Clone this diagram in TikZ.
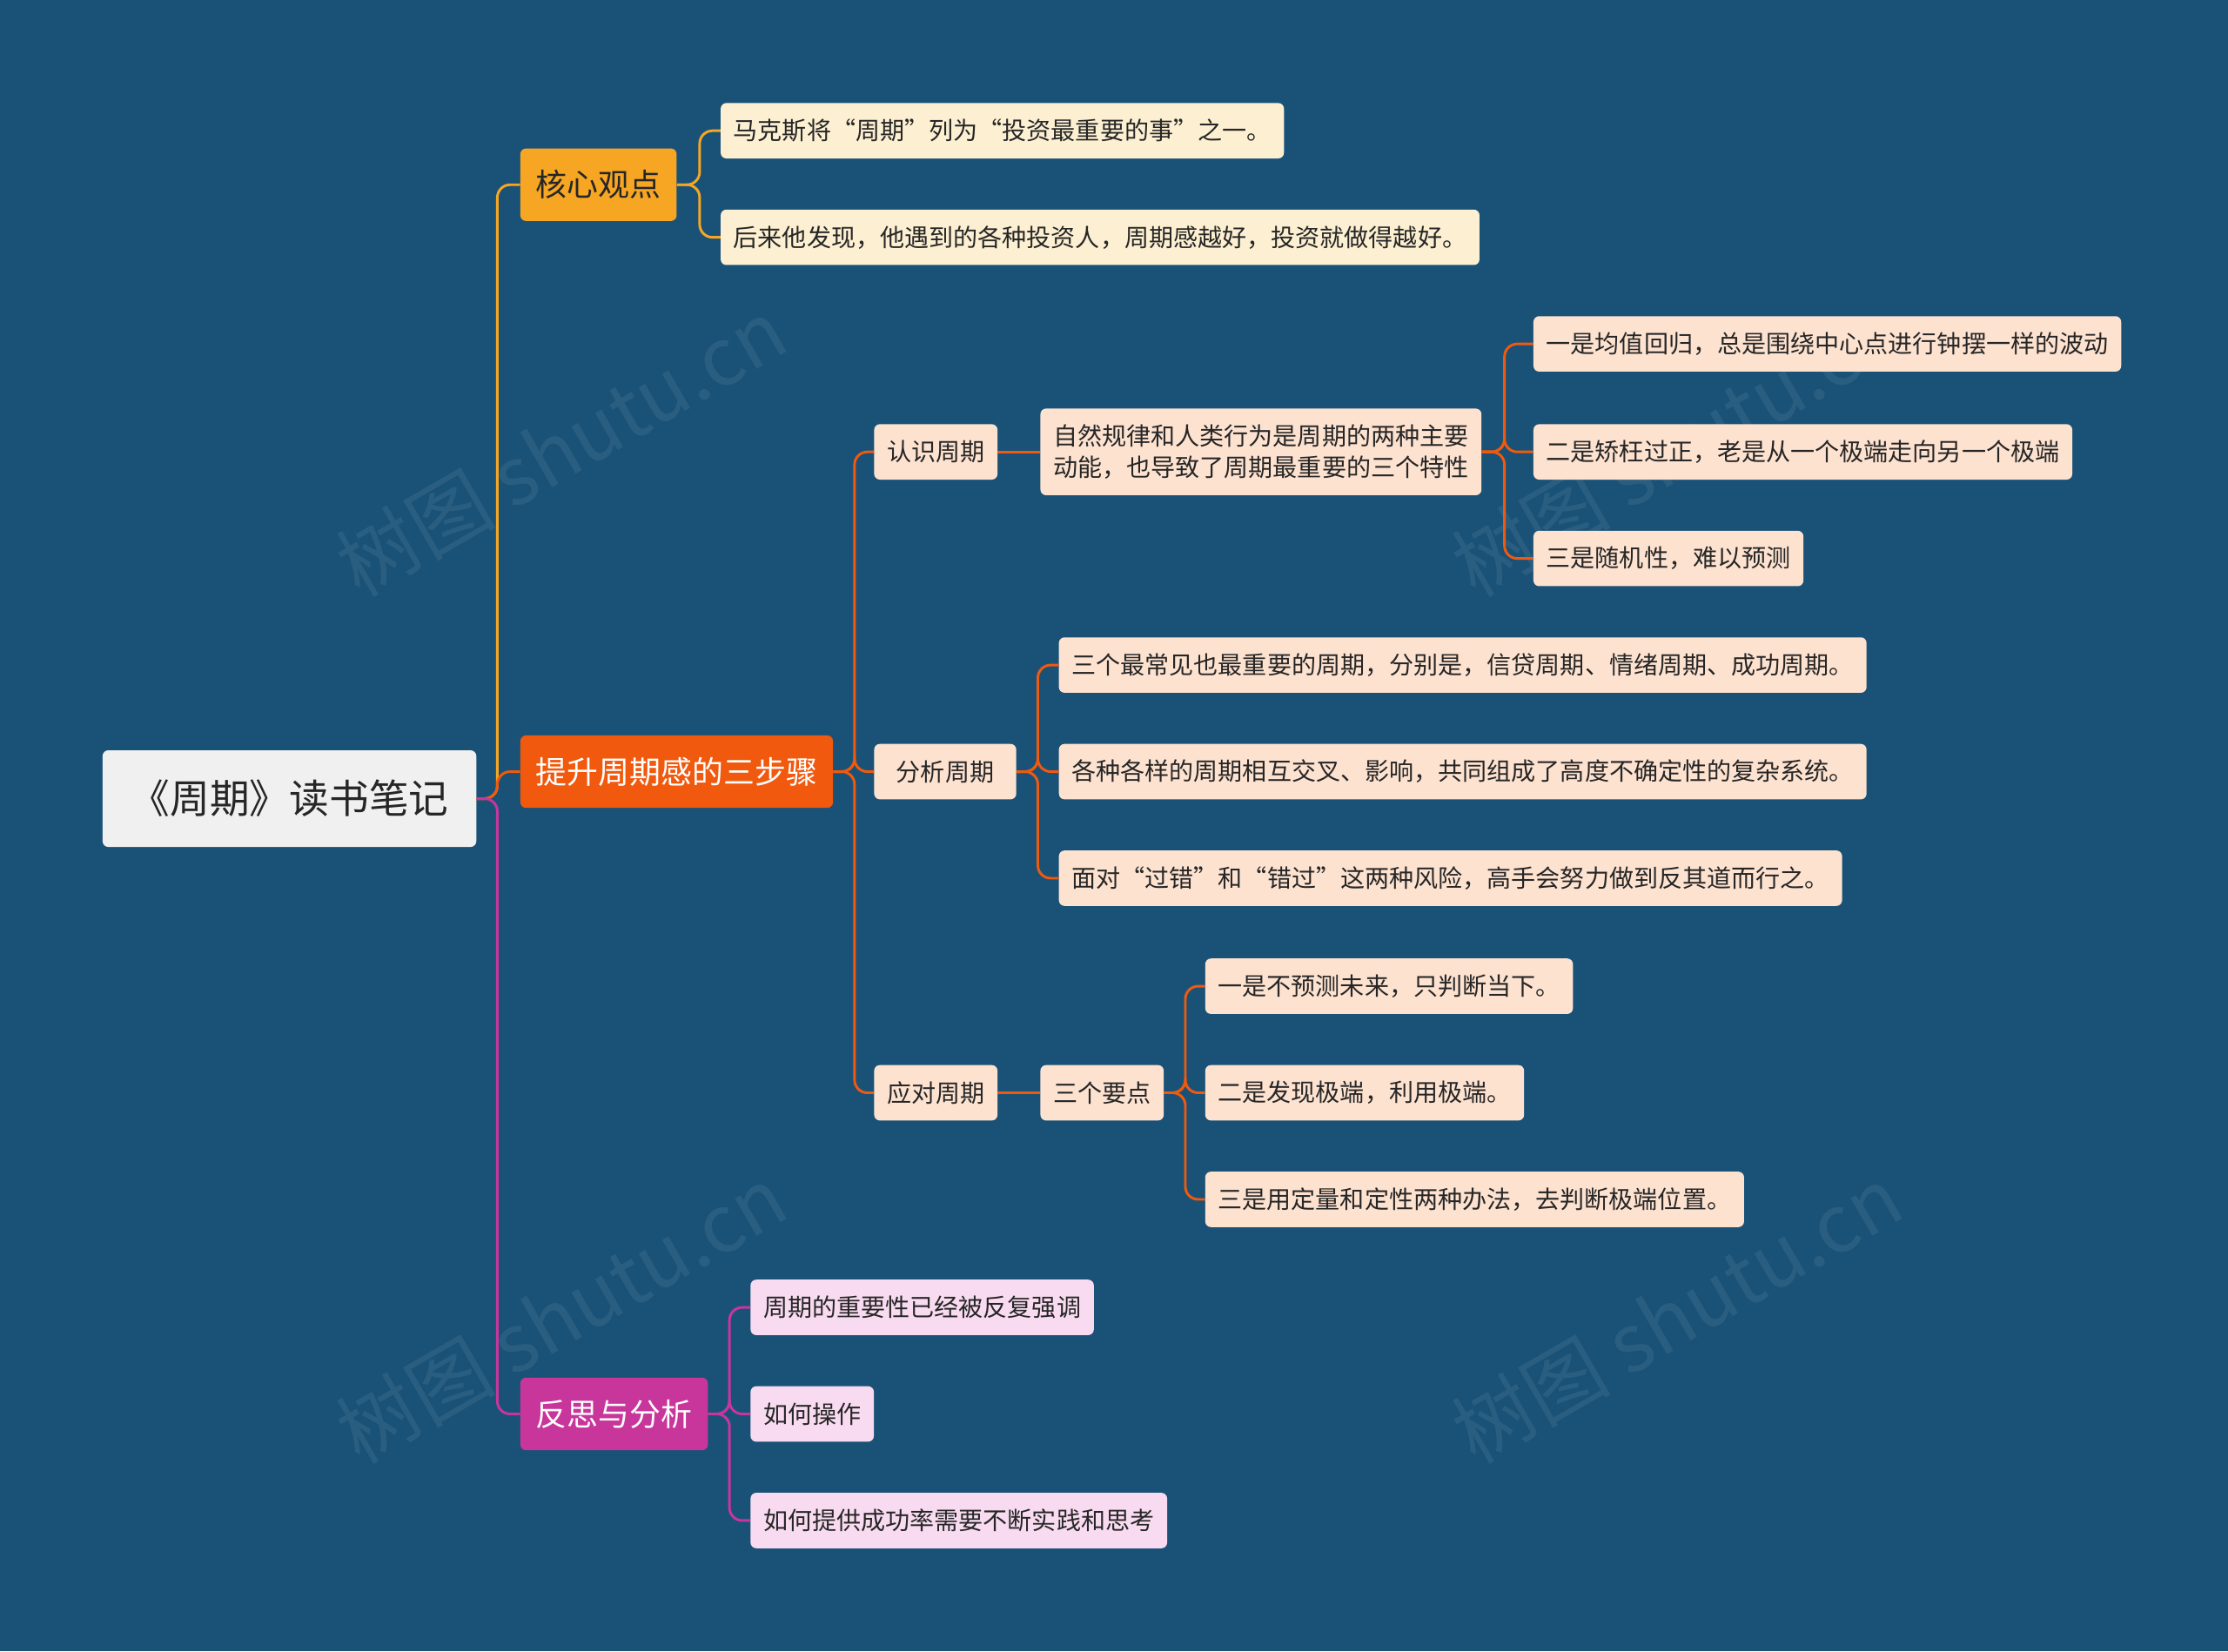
\documentclass[tikz,border=0pt]{standalone}
\usepackage{fontspec}
\setmainfont{Noto Sans CJK SC}
\usetikzlibrary{calc}
\definecolor{bg}{HTML}{1A5277}
\definecolor{orA}{HTML}{F6A623}
\definecolor{orB}{HTML}{F0590E}
\definecolor{mag}{HTML}{C8369C}
\definecolor{cream}{HTML}{FDF0D2}
\definecolor{peach}{HTML}{FDE2D0}
\definecolor{pink}{HTML}{F8DBF0}
\tikzset{
  box/.style={anchor=west,rounded corners=4pt,inner xsep=9pt,minimum height=39pt,font=\fontsize{17.2}{22}\selectfont,text=black!85},
  lone/.style={box,fill=cream},
  ltwo/.style={box,fill=peach},
  lmag/.style={box,fill=pink},
  main/.style={anchor=west,rounded corners=4pt,inner xsep=11pt,minimum height=51pt,font=\fontsize{22}{26}\selectfont,text=white},
  conA/.style={draw=orA,line width=1.8pt,rounded corners=9pt},
  conB/.style={draw=orB,line width=1.8pt,rounded corners=9pt},
  conM/.style={draw=mag,line width=1.8pt,rounded corners=9pt},
  wm/.style={rotate=30,text=white,opacity=0.07,font=\fontsize{56}{60}\selectfont}
}
\begin{document}
\begin{tikzpicture}[x=1pt,y=-1pt]
\fill[bg] (0,0) rectangle (1568,1162);
\useasboundingbox (0,0) rectangle (1568,1162);
\node[wm] (w1) at (395,315) {树图 shutu.cn};
\node[wm] (w2) at (1180,315) {树图 shutu.cn};
\node[wm] (w3) at (395,925) {树图 shutu.cn};
\node[wm] (w4) at (1180,925) {树图 shutu.cn};

\node[anchor=west,fill=black!6,rounded corners=4pt,minimum width=263pt,minimum height=68pt,font=\fontsize{28}{32}\selectfont,text=black!85] (root) at (72,562) {《周期》读书笔记};

\node[main,fill=orA,text=black!85] (k) at (366,130) {核心观点};
\node[main,fill=orB] (t) at (366,543) {提升周期感的三步骤};
\node[main,fill=mag] (f) at (366,995) {反思与分析};

\node[lone] (k1) at (507,92) {马克斯将“周期”列为“投资最重要的事”之一。};
\node[lone] (k2) at (507,167) {后来他发现，他遇到的各种投资人，周期感越好，投资就做得越好。};

\node[ltwo] (r) at (615,318) {认识周期};
\node[ltwo,minimum width=100pt] (a) at (615,543) {分析周期};
\node[ltwo] (y) at (615,769) {应对周期};

\node[ltwo,align=left,minimum height=61pt] (r1) at (732,318) {自然规律和人类行为是周期的两种主要\\动能，也导致了周期最重要的三个特性};
\node[ltwo] (r11) at (1079,242) {一是均值回归，总是围绕中心点进行钟摆一样的波动};
\node[ltwo] (r12) at (1079,318) {二是矫枉过正，老是从一个极端走向另一个极端};
\node[ltwo] (r13) at (1079,393) {三是随机性，难以预测};

\node[ltwo] (a1) at (745,468) {三个最常见也最重要的周期，分别是，信贷周期、情绪周期、成功周期。};
\node[ltwo] (a2) at (745,543) {各种各样的周期相互交叉、影响，共同组成了高度不确定性的复杂系统。};
\node[ltwo] (a3) at (745,618) {面对“过错”和“错过”这两种风险，高手会努力做到反其道而行之。};

\node[ltwo] (y1) at (732,769) {三个要点};
\node[ltwo] (y11) at (848,694) {一是不预测未来，只判断当下。};
\node[ltwo] (y12) at (848,769) {二是发现极端，利用极端。};
\node[ltwo] (y13) at (848,844) {三是用定量和定性两种办法，去判断极端位置。};

\node[lmag] (f1) at (528,920) {周期的重要性已经被反复强调};
\node[lmag] (f2) at (528,995) {如何操作};
\node[lmag] (f3) at (528,1070) {如何提供成功率需要不断实践和思考};

\path[conA] (root.east) -- (350,562) |- (k.west);
\path[conB] (root.east) -- (350,562) |- (t.west);
\path[conM] (root.east) -- (350,562) |- (f.west);

\foreach \c in {k1,k2} \path[conA] (k.east) -- ++(16,0) |- (\c.west);
\foreach \c in {r,a,y} \path[conB] (t.east) -- ++(15,0) |- (\c.west);
\path[conB] (r.east) -- (r1.west);
\foreach \c in {r11,r12,r13} \path[conB] (r1.east) -- ++(16,0) |- (\c.west);
\foreach \c in {a1,a2,a3} \path[conB] (a.east) -- ++(15,0) |- (\c.west);
\path[conB] (y.east) -- (y1.west);
\foreach \c in {y11,y12,y13} \path[conB] (y1.east) -- ++(15,0) |- (\c.west);
\foreach \c in {f1,f2,f3} \path[conM] (f.east) -- ++(15,0) |- (\c.west);
\end{tikzpicture}
\end{document}
